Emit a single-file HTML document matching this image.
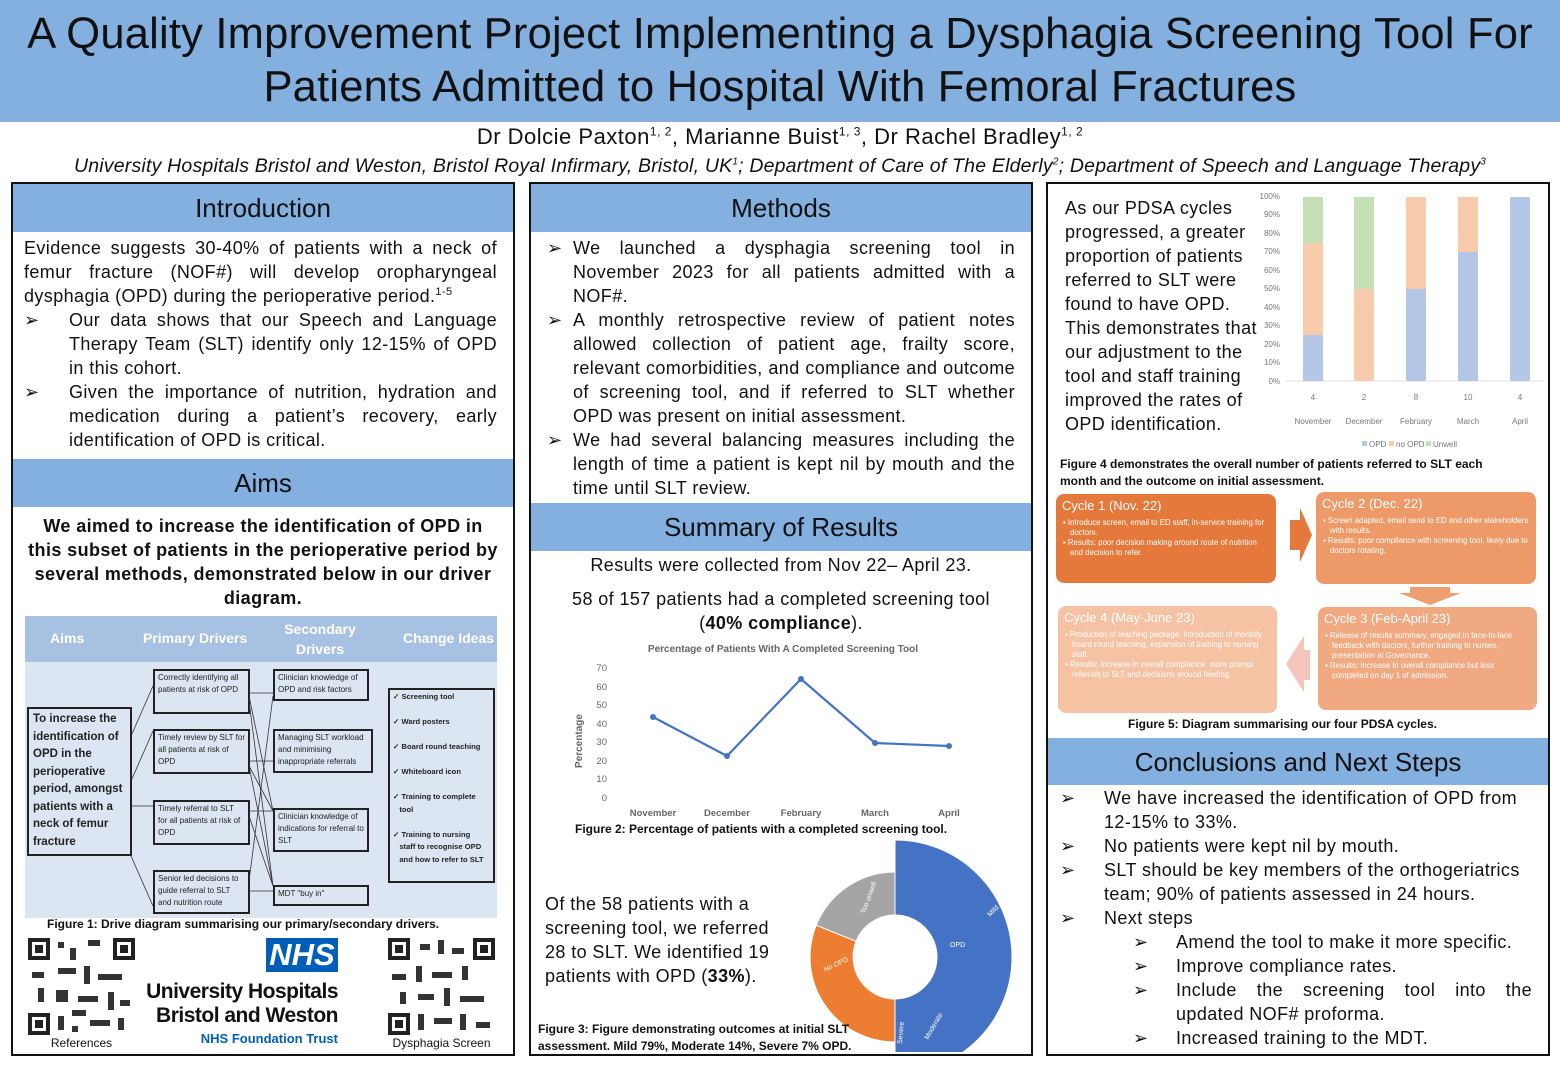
<!DOCTYPE html>
<html><head><meta charset="utf-8"><style>
*{margin:0;padding:0;box-sizing:border-box}
body{width:1560px;height:1080px;background:#fff;position:relative;overflow:hidden;font-family:"Liberation Sans",sans-serif;color:#111}
.a{position:absolute}
.hdr{position:absolute;background:#84b0e0;color:#111;font-size:26px;text-align:center;line-height:48px}
.col{position:absolute;border:2px solid #111}
.t{position:absolute;font-size:18px;line-height:24px;text-align:justify;letter-spacing:0.4px}
.ls{letter-spacing:0.4px}
.b{position:absolute;border:2px solid #222;background:#dce6f2;font-size:8px;line-height:12px;padding:1px 3px;color:#222;overflow:hidden}
.cy{position:absolute;border-radius:8px;color:#fff;padding:4px 6px;font-size:7.8px;line-height:10px}
.cy h4{font-weight:normal;font-size:13px;line-height:16px;margin-bottom:4px}
.cy li{margin-left:8px;list-style:none;text-indent:-7px}
.cap{position:absolute;font-size:12px;font-weight:bold;line-height:16px}
</style></head><body>
<div class="a" style="left:0;top:0;width:1560px;height:122px;background:#84b0e0"></div>
<div class="a" style="left:0;top:8px;width:1560px;text-align:center;font-size:43.5px;line-height:53px;letter-spacing:0.2px">A Quality Improvement Project Implementing a Dysphagia Screening Tool For<br>Patients Admitted to Hospital With Femoral Fractures</div>
<div class="a" style="left:0;top:124px;width:1560px;text-align:center;font-size:22px;letter-spacing:0.5px">Dr Dolcie Paxton<sup style="font-size:12px">1, 2</sup>, Marianne Buist<sup style="font-size:12px">1, 3</sup>, Dr Rachel Bradley<sup style="font-size:12px">1, 2</sup></div>
<div class="a" style="left:0;top:155px;width:1560px;text-align:center;font-size:19.5px;font-style:italic;letter-spacing:0.2px">University Hospitals Bristol and Weston, Bristol Royal Infirmary, Bristol, UK<sup style="font-size:10px">1</sup>; Department of Care of The Elderly<sup style="font-size:10px">2</sup>; Department of Speech and Language Therapy<sup style="font-size:10px">3</sup></div>

<div class="col" style="left:11px;top:182px;width:504px;height:874px"></div>
<div class="col" style="left:529px;top:182px;width:504px;height:874px"></div>
<div class="col" style="left:1046px;top:182px;width:504px;height:874px"></div>

<!-- left column -->
<div class="hdr" style="left:13px;top:184px;width:500px;height:48px">Introduction</div>
<div class="t" style="left:24px;top:236px;width:473px">Evidence suggests 30-40% of patients with a neck of femur fracture (NOF#) will develop oropharyngeal dysphagia (OPD) during the perioperative period.<sup style="font-size:11px;line-height:0">1-5</sup></div>
<div class="a" style="left:24px;top:308px;font-size:18px;line-height:24px">➢</div>
<div class="t" style="left:69px;top:308px;width:428px">Our data shows that our Speech and Language Therapy Team (SLT) identify only 12-15% of OPD in this cohort.</div>
<div class="a" style="left:24px;top:380px;font-size:18px;line-height:24px">➢</div>
<div class="t" style="left:69px;top:380px;width:428px">Given the importance of nutrition, hydration and medication during a patient’s recovery, early identification of OPD is critical.</div>
<div class="hdr" style="left:13px;top:459px;width:500px;height:48px">Aims</div>
<div class="a ls" style="left:26px;top:514px;width:474px;text-align:center;font-size:18px;line-height:24px;font-weight:bold">We aimed to increase the identification of OPD in this subset of patients in the perioperative period by several methods, demonstrated below in our driver diagram.</div>
<div class="a" style="left:25px;top:616px;width:472px;height:302px;background:#dce6f2"></div>
<div class="a" style="left:25px;top:616px;width:472px;height:46px;background:#a7c1e2"></div>
<div class="a" style="left:50px;top:630px;color:#fff;font-size:14px;font-weight:bold">Aims</div>
<div class="a" style="left:143px;top:630px;color:#fff;font-size:14px;font-weight:bold">Primary Drivers</div>
<div class="a" style="left:275px;top:619px;width:90px;text-align:center;color:#fff;font-size:14px;line-height:20px;font-weight:bold">Secondary Drivers</div>
<div class="a" style="left:403px;top:630px;color:#fff;font-size:14px;font-weight:bold">Change Ideas</div>
<svg class="a" style="left:25px;top:616px" width="472" height="302"><g stroke="#333" stroke-width="0.8" fill="none">
<path d="M106 120 L128 70 M106 165 L128 115 M106 190 L128 190 M106 240 L128 290 M224 77 L248 77 M224 145 L248 145 M224 195 L248 195 M224 275 L248 275 M224 80 L248 195 M224 85 L248 270 M224 150 L248 270 M224 200 L248 270 M224 265 L248 80 M224 150 L248 195"/></g></svg>
<div class="b" style="left:27px;top:707px;width:105px;height:149px;font-size:11.5px;line-height:17.5px;font-weight:bold;padding:2px 4px">To increase the identification of OPD in the perioperative period, amongst patients with a neck of femur fracture</div>
<div class="b" style="left:153px;top:669px;width:97px;height:45px">Correctly identifying all patients at risk of OPD</div>
<div class="b" style="left:153px;top:729px;width:97px;height:45px">Timely review by SLT for all patients at risk of OPD</div>
<div class="b" style="left:153px;top:800px;width:97px;height:45px">Timely referral to SLT for all patients at risk of OPD</div>
<div class="b" style="left:153px;top:870px;width:97px;height:44px">Senior led decisions to guide referral to SLT and nutrition route</div>
<div class="b" style="left:273px;top:669px;width:96px;height:32px">Clinician knowledge of OPD and risk factors</div>
<div class="b" style="left:273px;top:729px;width:100px;height:44px">Managing SLT workload and minimising inappropriate referrals</div>
<div class="b" style="left:273px;top:808px;width:96px;height:44px">Clinician knowledge of indications for referral to SLT</div>
<div class="b" style="left:273px;top:885px;width:96px;height:21px">MDT "buy in"</div>
<div class="b" style="left:388px;top:688px;width:107px;height:195px;font-weight:bold;font-size:7.6px;line-height:12.5px;white-space:nowrap">✓ Screening tool<br><br>✓ Ward posters<br><br>✓ Board round teaching<br><br>✓ Whiteboard icon<br><br>✓ Training to complete<br>&nbsp;&nbsp;&nbsp;tool<br><br>✓ Training to nursing<br>&nbsp;&nbsp;&nbsp;staff to recognise OPD<br>&nbsp;&nbsp;&nbsp;and how to refer to SLT</div>
<div class="cap" style="left:47px;top:916px">Figure 1: Drive diagram summarising our primary/secondary drivers.</div>
<svg class="a" style="left:28px;top:938px" width="107" height="97"><rect width="107" height="97" fill="#fff"/><g fill="#222"><rect x="0" y="0" width="22" height="22"/><rect x="85" y="0" width="22" height="22"/><rect x="0" y="75" width="22" height="22"/></g><g fill="#fff"><rect x="4" y="4" width="14" height="14"/><rect x="89" y="4" width="14" height="14"/><rect x="4" y="79" width="14" height="14"/></g><g fill="#222"><rect x="7" y="7" width="8" height="8"/><rect x="92" y="7" width="8" height="8"/><rect x="7" y="82" width="8" height="8"/></g><g fill="#333"><rect x="30" y="4" width="6" height="6"/><rect x="42" y="10" width="6" height="12"/><rect x="60" y="2" width="12" height="6"/><rect x="30" y="30" width="18" height="6"/><rect x="56" y="28" width="6" height="18"/><rect x="70" y="36" width="24" height="6"/><rect x="4" y="34" width="12" height="6"/><rect x="10" y="50" width="6" height="14"/><rect x="28" y="52" width="12" height="12"/><rect x="50" y="58" width="20" height="6"/><rect x="80" y="54" width="6" height="18"/><rect x="92" y="62" width="10" height="6"/><rect x="30" y="78" width="6" height="14"/><rect x="44" y="72" width="14" height="6"/><rect x="62" y="82" width="20" height="6"/><rect x="90" y="80" width="6" height="12"/><rect x="44" y="88" width="6" height="6"/></g></svg>
<svg class="a" style="left:388px;top:938px" width="107" height="97"><rect width="107" height="97" fill="#fff"/><g fill="#222"><rect x="0" y="0" width="22" height="22"/><rect x="85" y="0" width="22" height="22"/><rect x="0" y="75" width="22" height="22"/></g><g fill="#fff"><rect x="4" y="4" width="14" height="14"/><rect x="89" y="4" width="14" height="14"/><rect x="4" y="79" width="14" height="14"/></g><g fill="#222"><rect x="7" y="7" width="8" height="8"/><rect x="92" y="7" width="8" height="8"/><rect x="7" y="82" width="8" height="8"/></g><g fill="#333"><rect x="32" y="6" width="10" height="6"/><rect x="50" y="2" width="6" height="14"/><rect x="64" y="10" width="12" height="6"/><rect x="28" y="28" width="6" height="16"/><rect x="44" y="34" width="20" height="6"/><rect x="74" y="28" width="6" height="14"/><rect x="4" y="36" width="14" height="6"/><rect x="12" y="54" width="6" height="12"/><rect x="30" y="56" width="16" height="6"/><rect x="56" y="50" width="6" height="18"/><rect x="72" y="58" width="24" height="6"/><rect x="30" y="76" width="6" height="16"/><rect x="46" y="80" width="18" height="6"/><rect x="72" y="76" width="6" height="16"/><rect x="88" y="84" width="14" height="6"/></g></svg>
<div class="a" style="left:28px;top:1036px;width:107px;text-align:center;font-size:12px">References</div>
<div class="a" style="left:380px;top:1036px;width:123px;text-align:center;font-size:12px">Dysphagia Screen</div>
<div class="a" style="left:266px;top:938px;width:72px;height:34px;background:#005eb8;color:#fff;font-weight:bold;font-style:italic;font-size:31px;line-height:34px;text-align:center">NHS</div>
<div class="a" style="left:140px;top:980px;width:198px;text-align:right;font-weight:bold;font-size:21px;line-height:24px;letter-spacing:-0.5px">University Hospitals<br>Bristol and Weston</div>
<div class="a" style="left:140px;top:1031px;width:198px;text-align:right;font-weight:bold;font-size:13px;color:#005eb8">NHS Foundation Trust</div>

<!-- middle column -->
<div class="hdr" style="left:531px;top:184px;width:500px;height:48px">Methods</div>
<div class="a" style="left:547px;top:236px;font-size:18px;line-height:24px">➢</div>
<div class="t" style="left:573px;top:236px;width:442px">We launched a dysphagia screening tool in November 2023 for all patients admitted with a NOF#.</div>
<div class="a" style="left:547px;top:308px;font-size:18px;line-height:24px">➢</div>
<div class="t" style="left:573px;top:308px;width:442px">A monthly retrospective review of patient notes allowed collection of patient age, frailty score, relevant comorbidities, and compliance and outcome of screening tool, and if referred to SLT whether OPD was present on initial assessment.</div>
<div class="a" style="left:547px;top:428px;font-size:18px;line-height:24px">➢</div>
<div class="t" style="left:573px;top:428px;width:442px">We had several balancing measures including the length of time a patient is kept nil by mouth and the time until SLT review.</div>
<div class="hdr" style="left:531px;top:503px;width:500px;height:48px">Summary of Results</div>
<div class="a ls" style="left:531px;top:553px;width:500px;text-align:center;font-size:18px;line-height:24px">Results were collected from Nov 22– April 23.</div>
<div class="a ls" style="left:531px;top:587px;width:500px;text-align:center;font-size:18px;line-height:24px">58 of 157 patients had a completed screening tool<br>(<b>40% compliance</b>).</div>
<svg class="a" style="left:560px;top:636px" width="460" height="186" font-family="Liberation Sans" font-size="9.5" fill="#666">
<text x="223" y="16" text-anchor="middle" font-weight="bold" font-size="10">Percentage of Patients With A Completed Screening Tool</text>
<g text-anchor="end"><text x="47" y="35">70</text><text x="47" y="54">60</text><text x="47" y="72">50</text><text x="47" y="91">40</text><text x="47" y="109">30</text><text x="47" y="128">20</text><text x="47" y="146">10</text><text x="47" y="165">0</text></g>
<text transform="translate(22,105) rotate(-90)" text-anchor="middle" font-weight="bold" font-size="10">Percentage</text>
<g text-anchor="middle" font-weight="bold"><text x="93" y="180">November</text><text x="167" y="180">December</text><text x="241" y="180">February</text><text x="315" y="180">March</text><text x="389" y="180">April</text></g>
<polyline points="93,81 167,120 241,43 315,107 389,110" fill="none" stroke="#4472c4" stroke-width="2.2"/>
<g fill="#4472c4"><circle cx="93" cy="81" r="3"/><circle cx="167" cy="120" r="3"/><circle cx="241" cy="43" r="3"/><circle cx="315" cy="107" r="3"/><circle cx="389" cy="110" r="3"/></g>
</svg>
<div class="cap" style="left:575px;top:821px">Figure 2: Percentage of patients with a completed screening tool.</div>
<div class="a ls" style="left:545px;top:892px;font-size:18px;line-height:24px;width:240px">Of the 58 patients with a screening tool, we referred 28 to SLT. We identified 19 patients with OPD (<b>33%</b>).</div>
<svg class="a" style="left:770px;top:832px" width="260" height="220" font-family="Liberation Sans" font-size="7" fill="#fff">
<g transform="translate(125,125)" stroke="#fff" stroke-width="1">
<path d="M0,-117 A117,117 0 0 1 101.3,58.5 L73.6,42.5 A85,85 0 0 0 0,-85Z" fill="#4472c4"/>
<path d="M101.3,58.5 A117,117 0 0 1 58.5,101.3 L42.5,73.6 A85,85 0 0 0 73.6,42.5Z" fill="#4472c4"/>
<path d="M58.5,101.3 A117,117 0 0 1 0,117 L0,85 A85,85 0 0 0 42.5,73.6Z" fill="#4472c4"/>
<path d="M0,-117 A117,117 0 0 1 0,117 L0,42 A42,42 0 0 0 0,-42Z" fill="#4472c4"/>
<path d="M0,117 L0,42 A42,42 0 0 1 -38.9,-15.7 L-78.8,-31.8 A85,85 0 0 0 0,85Z" fill="#ed7d31"/>
<path d="M-78.8,-31.8 L-38.9,-15.7 A42,42 0 0 1 0,-42 L0,-85 A85,85 0 0 0 -78.8,-31.8Z" fill="#a5a5a5"/>
</g>
<text x="220" y="85" transform="rotate(-45 220 85)">Mild</text>
<text x="180" y="115">OPD</text>
<text x="158" y="208" transform="rotate(-60 158 208)">Moderate</text>
<text x="132" y="212" transform="rotate(-85 132 212)">Severe</text>
<text x="55" y="140" transform="rotate(-25 55 140)">No OPD</text>
<text x="95" y="82" transform="rotate(-70 95 82)">Too unwell</text>
</svg>
<div class="cap" style="left:538px;top:1021px;line-height:17px;font-size:12px">Figure 3: Figure demonstrating outcomes at initial SLT<br>assessment. Mild 79%, Moderate 14%, Severe 7% OPD.</div>

<!-- right column -->
<div class="a ls" style="left:1065px;top:196px;font-size:18px;line-height:24px;width:205px">As our PDSA cycles progressed, a greater proportion of patients referred to SLT were found to have OPD. This demonstrates that our adjustment to the tool and staff training improved the rates of OPD identification.</div>
<svg class="a" style="left:1250px;top:188px" width="297" height="265" font-family="Liberation Sans" font-size="8" fill="#777">
<g transform="translate(12,0)">
<g text-anchor="end"><text x="18" y="11">100%</text><text x="18" y="29">90%</text><text x="18" y="48">80%</text><text x="18" y="66">70%</text><text x="18" y="85">60%</text><text x="18" y="103">50%</text><text x="18" y="122">40%</text><text x="18" y="140">30%</text><text x="18" y="159">20%</text><text x="18" y="177">10%</text><text x="18" y="196">0%</text></g>
<line x1="24" y1="193" x2="282" y2="193" stroke="#ddd"/>
<rect x="41" y="147" width="20" height="46" fill="#b4c7e7"/><rect x="41" y="55" width="20" height="92" fill="#f8cbad"/><rect x="41" y="9" width="20" height="46" fill="#c5e0b4"/>
<rect x="92" y="101" width="20" height="92" fill="#f8cbad"/><rect x="92" y="9" width="20" height="92" fill="#c5e0b4"/>
<rect x="144" y="101" width="20" height="92" fill="#b4c7e7"/><rect x="144" y="9" width="20" height="92" fill="#f8cbad"/>
<rect x="196" y="64" width="20" height="129" fill="#b4c7e7"/><rect x="196" y="9" width="20" height="55" fill="#f8cbad"/>
<rect x="248" y="9" width="20" height="184" fill="#b4c7e7"/>
<g text-anchor="middle"><text x="51" y="212">4</text><text x="102" y="212">2</text><text x="154" y="212">8</text><text x="206" y="212">10</text><text x="258" y="212">4</text>
<text x="51" y="236">November</text><text x="102" y="236">December</text><text x="154" y="236">February</text><text x="206" y="236">March</text><text x="258" y="236">April</text></g>
<rect x="100" y="253" width="5" height="5" fill="#b4c7e7"/><text x="107" y="259">OPD</text>
<rect x="127" y="253" width="5" height="5" fill="#f8cbad"/><text x="134" y="259">no OPD</text>
<rect x="164" y="253" width="5" height="5" fill="#c5e0b4"/><text x="171" y="259">Unwell</text>
</g>
</svg>
<div class="cap" style="left:1060px;top:456px;line-height:17px;font-size:12px">Figure 4 demonstrates the overall number of patients referred to SLT each<br>month and the outcome on initial assessment.</div>
<div class="cy" style="left:1056px;top:494px;width:220px;height:89px;background:#e4793b"><h4>Cycle 1 (Nov. 22)</h4><ul><li>▪ Introduce screen, email to ED staff, in-service training for doctors.</li><li>▪ Results: poor decision making around route of nutrition and decision to refer.</li></ul></div>
<div class="cy" style="left:1316px;top:492px;width:220px;height:92px;background:#ed9a68"><h4>Cycle 2 (Dec. 22)</h4><ul><li>▪ Screen adapted, email send to ED and other stakeholders with results.</li><li>▪ Results: poor compliance with screening tool, likely due to doctors rotating.</li></ul></div>
<div class="cy" style="left:1318px;top:607px;width:219px;height:103px;background:#f1a981"><h4>Cycle 3 (Feb-April 23)</h4><ul><li>▪ Release of results summary, engaged in face-to-face feedback with doctors, further training to nurses, presentation at Governance.</li><li>▪ Results: Increase in overall compliance but less completed on day 1 of admission.</li></ul></div>
<div class="cy" style="left:1058px;top:606px;width:219px;height:107px;background:#f5c2a4"><h4>Cycle 4 (May-June 23)</h4><ul><li>▪ Production of teaching package, introduction of monthly board round teaching, expansion of training to nursing staff.</li><li>▪ Results: Increase in overall compliance, more prompt referrals to SLT and decisions around feeding.</li></ul></div>
<svg class="a" style="left:1280px;top:500px" width="40" height="70"><path d="M10 20 L20 20 L20 8 L32 35 L20 62 L20 50 L10 50Z" fill="#e4793b"/></svg>
<svg class="a" style="left:1395px;top:585px" width="70" height="22"><path d="M15 2 L55 2 L55 8 L66 8 L35 20 L4 8 L15 8Z" fill="#ef9e70"/></svg>
<svg class="a" style="left:1282px;top:628px" width="32" height="70"><path d="M28 22 L22 22 L22 8 L4 36 L22 64 L22 52 L28 52Z" fill="#f5c4ba"/></svg>
<div class="cap" style="left:1128px;top:716px">Figure 5: Diagram summarising our four PDSA cycles.</div>
<div class="hdr" style="left:1048px;top:738px;width:500px;height:47px">Conclusions and Next Steps</div>
<div class="a" style="left:1060px;top:786px;font-size:18px;line-height:24px">➢<br><br>➢<br>➢<br><br>➢</div>
<div class="a ls" style="left:1104px;top:786px;font-size:18px;line-height:24px;width:430px">We have increased the identification of OPD from 12-15% to 33%.<br>No patients were kept nil by mouth.<br>SLT should be key members of the orthogeriatrics team; 90% of patients assessed in 24 hours.<br>Next steps</div>
<div class="a" style="left:1133px;top:930px;font-size:18px;line-height:24px">➢<br>➢<br>➢<br><br>➢</div>
<div class="t" style="left:1176px;top:930px;width:356px">Amend the tool to make it more specific.<br>Improve compliance rates.<br>Include the screening tool into the updated NOF# proforma.<br>Increased training to the MDT.</div>
</body></html>
